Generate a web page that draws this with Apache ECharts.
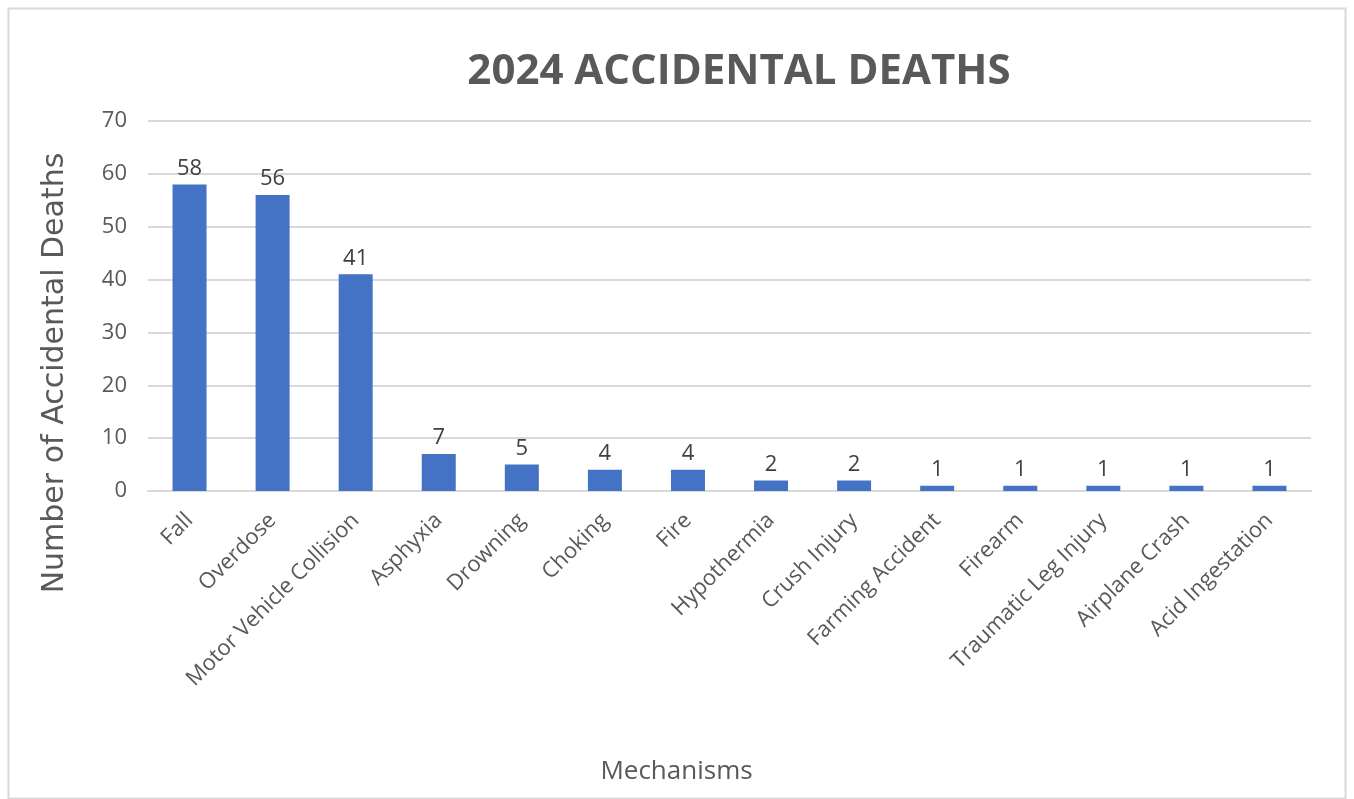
<!DOCTYPE html>
<html>
<head>
<meta charset="utf-8">
<script src="https://cdn.jsdelivr.net/npm/echarts@6/dist/echarts.min.js"></script>
<style>html,body{margin:0;padding:0;background:#fff;}#c{width:1354px;height:799px;}</style>
</head>
<body>
<div id="c"></div>
<script>
const categories = ["Fall","Overdose","Motor Vehicle Collision","Asphyxia","Drowning","Choking","Fire","Hypothermia","Crush Injury","Farming Accident","Firearm","Traumatic Leg Injury","Airplane Crash","Acid Ingestation"];
const deaths = [58,56,41,7,5,4,4,2,2,1,1,1,1,1];
const yTicks = [0,10,20,30,40,50,60,70];

const chart = echarts.init(document.getElementById('c'));
const txt = '#595959';
const font = 'Open Sans';
chart.setOption({
  animation: false,
  title: {
    text: '2024 ACCIDENTAL DEATHS',
    left: 734, top: 46, textAlign: 'center',
    textStyle: {fontFamily: font, fontWeight: 'bold', fontSize: 42, color: txt}
  },
  graphic: [{
    type: 'rect', shape: {x: 8.5, y: 8.5, width: 1337, height: 790},
    style: {fill: 'none', stroke: '#d9d9d9', lineWidth: 2}, silent: true
  }],
  grid: {left: 148, right: 43, top: 121, bottom: 308},
  xAxis: {
    type: 'category', data: categories,
    axisLine: {show: true, lineStyle: {color: '#d9d9d9', width: 2}},
    axisTick: {show: false},
    axisLabel: {rotate: 45, color: txt, fontFamily: font, fontSize: 22, margin: 26, interval: 0},
    name: 'Mechanisms', nameLocation: 'middle', nameGap: 268,
    nameTextStyle: {color: txt, fontFamily: font, fontSize: 26, padding: [0, 106, 0, 0]}
  },
  yAxis: {
    type: 'value', min: yTicks[0], max: yTicks[yTicks.length-1], interval: 10,
    axisLine: {show: false}, axisTick: {show: false},
    splitLine: {lineStyle: {color: '#d9d9d9', width: 2}},
    axisLabel: {color: txt, fontFamily: font, fontSize: 22, margin: 21},
    name: 'Number of Accidental Deaths', nameLocation: 'middle', nameGap: 78,
    nameTextStyle: {color: txt, fontFamily: 'DejaVu Sans', fontSize: 30, padding: [0, 134, 0, 0]}
  },
  series: [{
    type: 'bar', data: deaths, barWidth: 34,
    itemStyle: {color: '#4472C4'},
    label: {show: true, position: 'top', distance: 5, color: '#404040', fontFamily: font, fontSize: 22}
  }]
});
</script>
</body>
</html>
